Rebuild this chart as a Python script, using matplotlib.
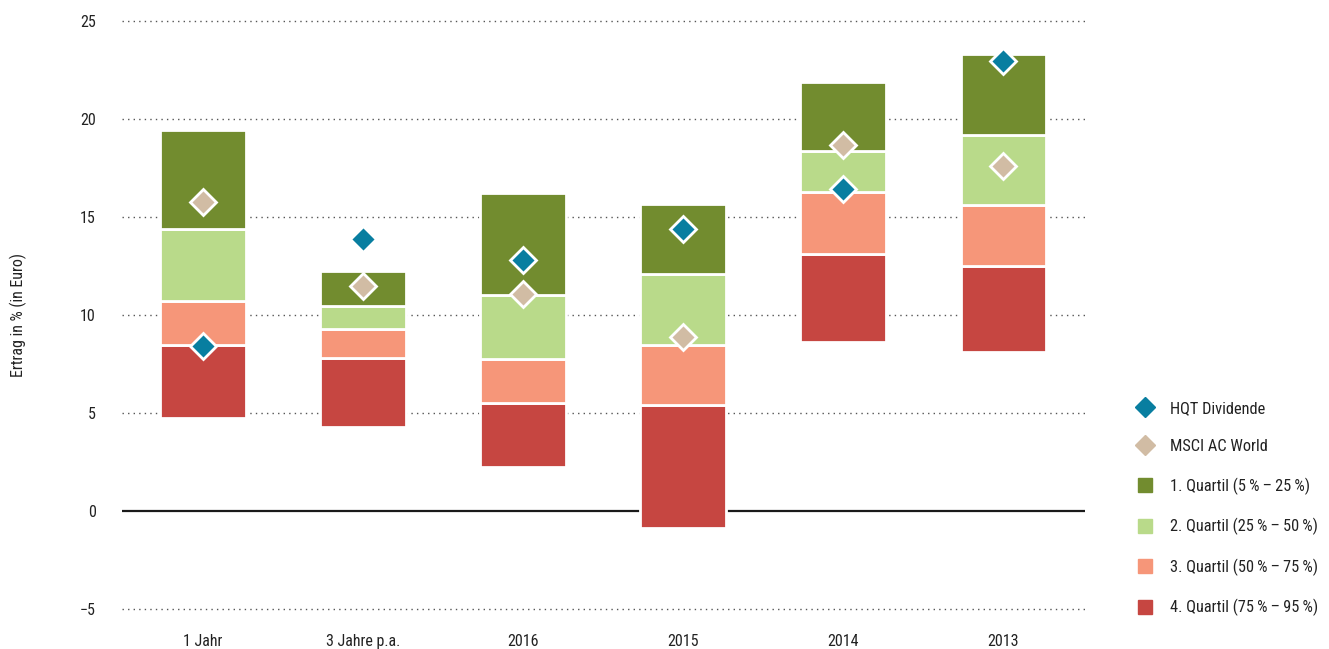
import matplotlib
matplotlib.use('Agg')
import matplotlib.pyplot as plt
from matplotlib.lines import Line2D
import numpy as np

plt.rcParams['font.family'] = ['Liberation Sans Narrow', 'Roboto Condensed', 'DejaVu Sans']
plt.rcParams['font.stretch'] = 'condensed'

labels = ['1 Jahr', '3 Jahre p.a.', '2016', '2015', '2014', '2013']
# Quantile boundaries (top = 5 %, bottom = 95 %)
p05 = [19.45, 12.27, 16.24, 15.68, 21.89, 23.32]
p25 = [14.40, 10.47, 11.03, 12.10, 18.37, 19.18]
p50 = [10.72, 9.30, 7.77, 8.47, 16.28, 15.62]
p75 = [8.48, 7.83, 5.53, 5.43, 13.12, 12.51]
p95 = [4.74, 4.28, 2.26, -0.87, 8.60, 8.10]
hqt = [8.44, 13.88, 12.83, 14.41, 16.45, 22.98]
msci = [15.75, 11.47, 11.08, 8.88, 18.69, 17.58]

c_q1, c_q2, c_q3, c_q4 = '#728c2f', '#b9da8a', '#f69679', '#c64641'
c_hqt, c_msci = '#087ea0', '#d1bca4'

fig = plt.figure(figsize=(13.29, 6.49), dpi=100)
ax = fig.add_axes([0.0918, 0.0570, 0.7246, 0.9152])

x = np.arange(len(labels))
w = 0.535
segs = [(p95, p75, c_q4), (p75, p50, c_q3), (p50, p25, c_q2), (p25, p05, c_q1)]
for lo, hi, col in segs:
    lo, hi = np.array(lo), np.array(hi)
    ax.bar(x, hi - lo, bottom=lo, width=w, color=col, edgecolor='white',
           linewidth=2, zorder=3)

ax.plot(x, hqt, 'D', ms=13.5, color=c_hqt, mec='white', mew=2, zorder=5)
ax.plot(x, msci, 'D', ms=13.5, color=c_msci, mec='white', mew=2, zorder=5)

ax.set_xlim(-0.505, 5.51)
ax.set_ylim(-5.15, 25.15)
ax.set_yticks([-5, 0, 5, 10, 15, 20, 25])
ax.set_yticklabels(['\u22125', '0', '5', '10', '15', '20', '25'])
for v in [-5, 5, 10, 15, 20, 25]:
    ax.axhline(v, color='#555555', lw=1, ls=(0, (1, 3)), zorder=1)
ax.axhline(0, color='#1a1a1a', lw=1.6, zorder=2)

ax.set_xticks(x)
ax.set_xticklabels(labels)
ax.tick_params(length=0, labelsize=11.5, colors='#222222')
ax.tick_params(axis='y', pad=19)
ax.tick_params(axis='x', pad=16)
for s in ax.spines.values():
    s.set_visible(False)
ax.set_ylabel('Ertrag in % (in Euro)', fontsize=11.5, color='#222222', labelpad=38)

handles = [
    Line2D([], [], ls='none', marker='D', ms=10.5, color=c_hqt),
    Line2D([], [], ls='none', marker='D', ms=10.5, color=c_msci),
    Line2D([], [], ls='none', marker='s', ms=10, color=c_q1),
    Line2D([], [], ls='none', marker='s', ms=10, color=c_q2),
    Line2D([], [], ls='none', marker='s', ms=10, color=c_q3),
    Line2D([], [], ls='none', marker='s', ms=10, color=c_q4),
]
names = ['HQT Dividende', 'MSCI AC World',
         '1. Quartil (5\u2009%\u2009\u2013\u200925\u2009%)',
         '2. Quartil (25\u2009%\u2009\u2013\u200950\u2009%)',
         '3. Quartil (50\u2009%\u2009\u2013\u200975\u2009%)',
         '4. Quartil (75\u2009%\u2009\u2013\u200995\u2009%)']
fig.legend(handles, names, loc='upper left', bbox_to_anchor=(0.843, 0.405),
           frameon=False, fontsize=11.8, labelspacing=1.42, handlelength=1.2,
           handletextpad=0.95, labelcolor='#222222')

plt.savefig('out.png', dpi=100)
